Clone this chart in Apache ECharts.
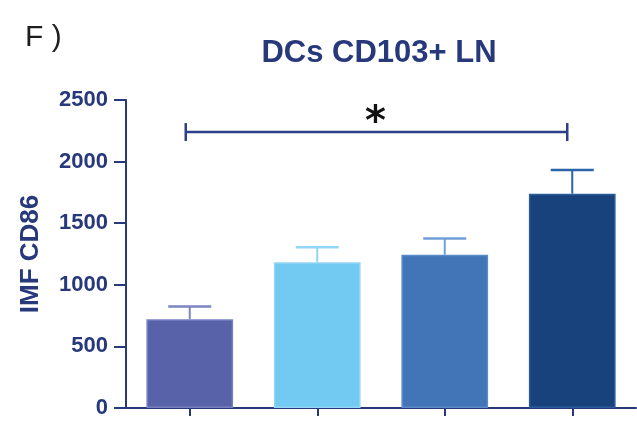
<!DOCTYPE html>
<html>
<head>
<meta charset="utf-8">
<script src="https://cdn.jsdelivr.net/npm/echarts@6/dist/echarts.min.js"></script>
<style>
  html, body { margin: 0; padding: 0; background: #fff; }
  #chart { width: 637px; height: 428px; }
</style>
</head>
<body>
<div id="chart"></div>
<script>
// Groups along the x axis (no tick labels are printed)
const groups = ['G1', 'G2', 'G3', 'G4'];
// Mean IMF of CD86 per group and its error (SEM)
const meanValues = [721, 1184, 1244, 1740];
const errValues = [103, 121, 131, 192];
// Y axis ticks
const yTicks = [0, 500, 1000, 1500, 2000, 2500];
// Significance bracket between group 1 and group 4
const sigPair = [0, 3];
const sigLevel = 2240;
const sigMark = '*';

const barFill = ['#5762a8', '#72c9f1', '#4275b8', '#18427c'];
const barEdge = ['#7880c0', '#92d6f5', '#5a8bc8', '#2a5c9a'];
const errColor = ['#7d85c2', '#92d6f5', '#6f9fd6', '#2a65a8'];
const navy = '#27397b';

const chart = echarts.init(document.getElementById('chart'), null, { renderer: 'canvas' });

const option = {
  animation: false,
  backgroundColor: '#ffffff',
  grid: { left: 126, right: 1, top: 100, bottom: 20, containLabel: false },
  xAxis: {
    type: 'category',
    data: groups,
    axisLine: { lineStyle: { color: navy, width: 2 } },
    axisTick: { show: true, alignWithLabel: true, length: 8, lineStyle: { color: navy, width: 2 } },
    axisLabel: { show: false },
    splitLine: { show: false }
  },
  yAxis: {
    type: 'value',
    min: yTicks[0],
    max: yTicks[yTicks.length - 1],
    interval: yTicks[1] - yTicks[0],
    name: 'IMF CD86',
    nameLocation: 'middle',
    nameRotate: 90,
    nameGap: 82,
    nameTextStyle: { color: navy, fontSize: 26, fontWeight: 'bold', fontFamily: 'Liberation Sans' },
    axisLine: { show: true, lineStyle: { color: navy, width: 2 } },
    axisTick: { show: true, length: 12, lineStyle: { color: navy, width: 2 } },
    axisLabel: {
      color: navy, fontSize: 22, fontWeight: 'bold', fontFamily: 'Liberation Sans', margin: 18,
      formatter: function (v) { return String(v); }
    },
    splitLine: { show: false }
  },
  graphic: [
    {
      type: 'text', left: 25, top: 23,
      style: { text: 'F )', fill: '#1e1e1e', font: '30px "Liberation Sans"' }
    },
    {
      type: 'text', x: 379, y: 53,
      style: {
        text: 'DCs CD103+ LN', fill: navy, font: 'bold 31px "Liberation Sans"',
        align: 'center', verticalAlign: 'middle'
      }
    }
  ],
  series: [
    {
      type: 'bar',
      data: meanValues.map((v, i) => ({
        value: v,
        itemStyle: { color: barFill[i], borderColor: barEdge[i], borderWidth: 1.5 }
      })),
      barWidth: '68%',
      z: 2
    },
    {
      type: 'custom',
      z: 3,
      data: meanValues.map((v, i) => [i, v, v + errValues[i]]),
      renderItem: function (params, api) {
        const i = api.value(0);
        const base = api.coord([i, api.value(1)]);
        const top = api.coord([i, api.value(2)]);
        const half = 21.5;
        const c = errColor[params.dataIndex];
        return {
          type: 'group',
          children: [
            { type: 'line', shape: { x1: base[0], y1: base[1], x2: top[0], y2: top[1] },
              style: { stroke: c, lineWidth: 2 } },
            { type: 'line', shape: { x1: top[0] - half, y1: top[1], x2: top[0] + half, y2: top[1] },
              style: { stroke: c, lineWidth: 2.5 } }
          ]
        };
      }
    },
    {
      type: 'custom',
      z: 4,
      data: [[sigPair[0], sigPair[1], sigLevel]],
      renderItem: function (params, api) {
        const a = api.coord([api.value(0), api.value(2)]);
        const b = api.coord([api.value(1), api.value(2)]);
        const x1 = a[0] - 4, x2 = b[0] - 5;
        return {
          type: 'group',
          children: [
            { type: 'line', shape: { x1: x1, y1: a[1], x2: x2, y2: b[1] },
              style: { stroke: '#2d3f86', lineWidth: 2.5 } },
            { type: 'line', shape: { x1: x1, y1: a[1] - 9, x2: x1, y2: a[1] + 9 },
              style: { stroke: '#2d3f86', lineWidth: 2.5 } },
            { type: 'line', shape: { x1: x2, y1: b[1] - 9, x2: x2, y2: b[1] + 9 },
              style: { stroke: '#2d3f86', lineWidth: 2.5 } },
            { type: 'text', x: (x1 + x2) / 2 - 1, y: a[1] - 8,
              style: { text: sigMark, fill: '#111', font: 'bold 40px "DejaVu Sans"',
                       align: 'center', verticalAlign: 'middle' } }
          ]
        };
      }
    }
  ]
};

chart.setOption(option);
</script>
</body>
</html>
